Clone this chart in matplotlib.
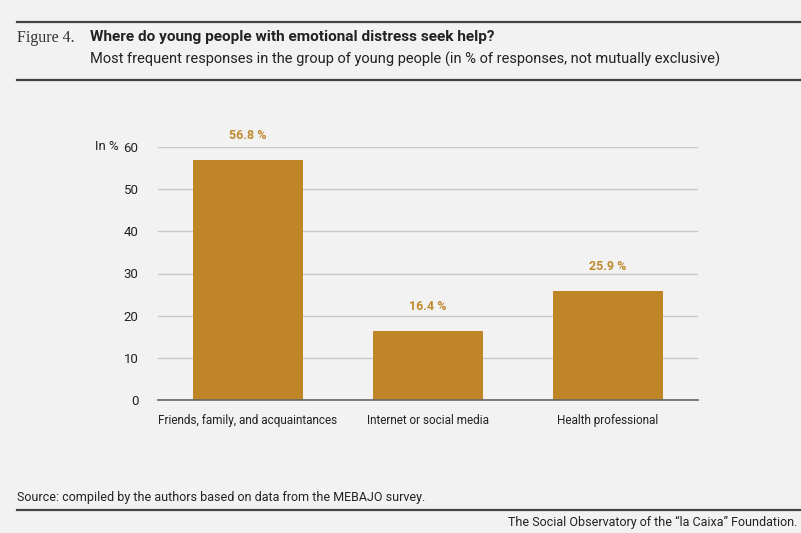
import matplotlib
matplotlib.use('Agg')
import matplotlib.pyplot as plt
from matplotlib.lines import Line2D

# data
categories = ['Friends, family, and acquaintances', 'Internet or social media', 'Health professional']
percentages = [56.8, 16.4, 25.9]
y_ticks = [0, 10, 20, 30, 40, 50, 60]

bg = '#f2f2f2'
bar_color = '#c08526'
label_color = '#c08a30'
text_color = '#222222'

plt.rcParams['font.family'] = ['Roboto', 'DejaVu Sans']

fig = plt.figure(figsize=(8.01, 5.33), dpi=100, facecolor=bg)
W, H = 801, 533

def fx(px):
    return px / W

def fy(py):
    return 1 - py / H

# axes placed by pixel: x 158..698, y 147 (60) .. 400 (0)
ax = fig.add_axes([fx(158), fy(400), fx(698) - fx(158), fy(147) - fy(400)])
ax.set_facecolor(bg)

x = list(range(len(categories)))
ax.bar(x, percentages, width=0.61, color=bar_color, zorder=3)

for xi, val in zip(x, percentages):
    ax.text(xi, val + 4.3, f'{val:.1f} %', ha='center', va='bottom',
            fontsize=9, fontweight='bold', color=label_color)

ax.set_xlim(-0.5, 2.5)
ax.set_ylim(0, 60)
ax.set_yticks(y_ticks)
ax.set_yticklabels([str(t) for t in y_ticks], fontsize=9.5, color=text_color)
ax.set_xticks(x)
ax.set_xticklabels(categories, fontsize=8.5, color=text_color)
ax.tick_params(axis='both', length=0)
ax.tick_params(axis='y', pad=14)
ax.tick_params(axis='x', pad=10)

ax.grid(axis='y', color='#c8c8c8', linewidth=1, zorder=0)
for s in ['top', 'right', 'left']:
    ax.spines[s].set_visible(False)
ax.spines['bottom'].set_color('#666666')
ax.spines['bottom'].set_linewidth(1.2)
ax.spines['bottom'].set_zorder(4)

fig.text(fx(95), fy(147), 'In %', fontsize=9.5, color=text_color, va='center', ha='left')

# header
fig.add_artist(Line2D([fx(17), 1], [fy(22), fy(22)], color='#444444', linewidth=1.6))
fig.add_artist(Line2D([fx(17), 1], [fy(80), fy(80)], color='#444444', linewidth=1.6))
fig.text(fx(17), fy(38), 'Figure 4.', fontsize=11.5, family='Liberation Serif',
         color='#333333', va='center', ha='left')
fig.text(fx(90), fy(37), 'Where do young people with emotional distress seek help?',
         fontsize=11.1, fontweight='bold',
         color=text_color, va='center', ha='left')
fig.text(fx(90), fy(59),
         'Most frequent responses in the group of young people (in % of responses, not mutually exclusive)',
         fontsize=10.5, color=text_color, va='center', ha='left')

# footer
fig.text(fx(17), fy(498), 'Source: compiled by the authors based on data from the MEBAJO survey.',
         fontsize=9, color=text_color, va='center', ha='left')
fig.add_artist(Line2D([fx(17), 1], [fy(510), fy(510)], color='#444444', linewidth=1.6))
fig.text(fx(797), fy(522), 'The Social Observatory of the \u201cla Caixa\u201d Foundation.',
         fontsize=9, color=text_color, va='center', ha='right')

fig.savefig('out.png', dpi=100, facecolor=bg)
